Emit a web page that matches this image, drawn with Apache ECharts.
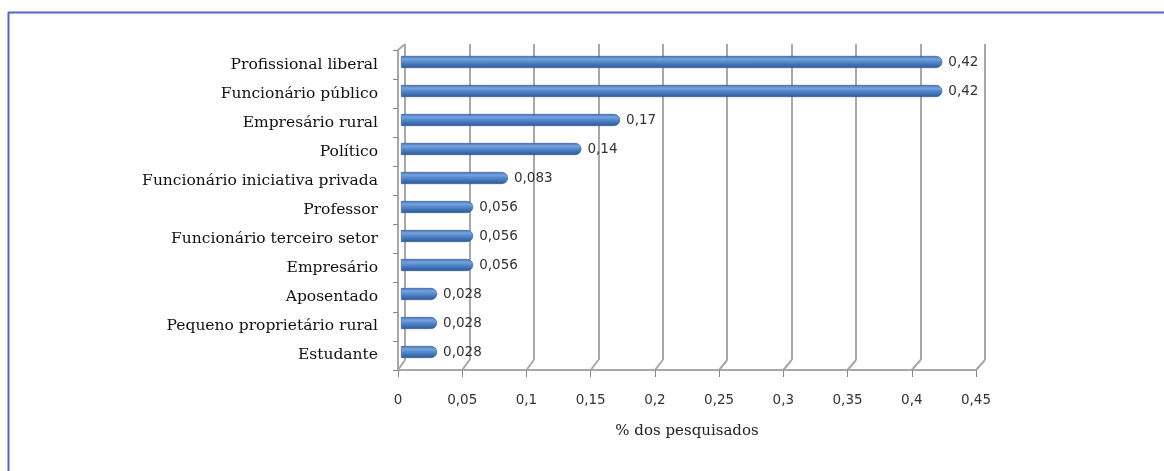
<!DOCTYPE html>
<html><head><meta charset="utf-8">
<script src="https://cdn.jsdelivr.net/npm/echarts@6/dist/echarts.min.js"></script>
<style>html,body{margin:0;padding:0;background:#fff}#c{width:1164px;height:471px}</style>
</head><body><div id="c"></div>
<script>
const categories = ['Profissional liberal','Funcionário público','Empresário rural','Político','Funcionário iniciativa privada','Professor','Funcionário terceiro setor','Empresário','Aposentado','Pequeno proprietário rural','Estudante'];
const values = [0.42,0.42,0.17,0.14,0.083,0.056,0.056,0.056,0.028,0.028,0.028];
const valueLabels = ['0,42','0,42','0,17','0,14','0,083','0,056','0,056','0,056','0,028','0,028','0,028'];
const ticks = [0,0.05,0.1,0.15,0.2,0.25,0.3,0.35,0.4,0.45];
const axisTitle = '% dos pesquisados';

const fmt = v => String(Math.round(v*100)/100).replace('.', ',');
const chart = echarts.init(document.getElementById('c'));
const serif = 'DejaVu Serif';
const gridCol = '#a8a8a8';
chart.setOption({
  animation:false,
  grid:[
    {left:405, top:44, width:580, height:316},   // back wall
    {left:401, top:47.5, width:580, height:319}, // bars
    {left:398, top:50, width:578, height:320}    // front axes
  ],
  xAxis:[
    {gridIndex:0, type:'value', min:0, max:0.45, interval:0.05,
     axisLine:{show:false}, axisTick:{show:false}, axisLabel:{show:false},
     splitLine:{show:true, lineStyle:{color:gridCol, width:2}}},
    {gridIndex:1, type:'value', min:0, max:0.45, show:false},
    {gridIndex:2, type:'value', min:0, max:0.45, interval:0.05,
     axisLine:{show:true, lineStyle:{color:gridCol, width:2}},
     axisTick:{show:true, length:7, lineStyle:{color:'#888', width:1}},
     axisLabel:{show:true, formatter:fmt, margin:23, fontFamily:'DejaVu Sans', fontSize:13.5, color:'#333'},
     splitLine:{show:false},
     name:axisTitle, nameLocation:'middle', nameGap:54, nameMoveOverlap:false,
     nameTextStyle:{fontFamily:serif, fontSize:15, color:'#222'}}
  ],
  yAxis:[
    {gridIndex:0, type:'category', data:categories, inverse:true, show:false},
    {gridIndex:1, type:'category', data:categories, inverse:true, show:false},
    {gridIndex:2, type:'category', data:categories, inverse:true,
     axisLine:{show:true, lineStyle:{color:gridCol, width:2}},
     axisTick:{show:true, length:5, lineStyle:{color:'#888'}},
     axisLabel:{fontFamily:serif, fontSize:15.5, color:'#111', margin:20}}
  ],
  series:[{
    type:'bar', xAxisIndex:1, yAxisIndex:1, data:values, barWidth:12,
    itemStyle:{
      borderRadius:[0,6,6,0],
      color:new echarts.graphic.LinearGradient(0,0,0,1,[
        {offset:0,color:'#3e6fb3'},{offset:0.25,color:'#76a3de'},
        {offset:0.55,color:'#4e84c8'},{offset:1,color:'#2d5894'}]),
      borderColor:'#305d98', borderWidth:0.6
    },
    label:{show:true, position:'right', distance:6, fontFamily:'DejaVu Sans', fontSize:13.5, color:'#333',
      formatter:p=>valueLabels[p.dataIndex]}
  }]
});

function drawDeco(){
  const els = [];
  ticks.forEach(v=>{
    const b = chart.convertToPixel({xAxisIndex:0}, v);
    const f = chart.convertToPixel({xAxisIndex:2}, v);
    els.push({type:'line', shape:{x1:b, y1:360, x2:f, y2:370}, style:{stroke:gridCol, lineWidth:2}, silent:true});
  });
  const b0 = chart.convertToPixel({xAxisIndex:0}, 0);
  const f0 = chart.convertToPixel({xAxisIndex:2}, 0);
  els.push({type:'line', shape:{x1:f0, y1:50, x2:b0, y2:44}, style:{stroke:gridCol, lineWidth:2}, silent:true});
  els.push({type:'line', shape:{x1:8, y1:12.5, x2:1164, y2:12.5}, style:{stroke:'#5065cf', lineWidth:2}, silent:true});
  els.push({type:'line', shape:{x1:8.5, y1:12, x2:8.5, y2:471}, style:{stroke:'#5065cf', lineWidth:2}, silent:true});
  chart.setOption({graphic:els});
}
drawDeco();
</script></body></html>
